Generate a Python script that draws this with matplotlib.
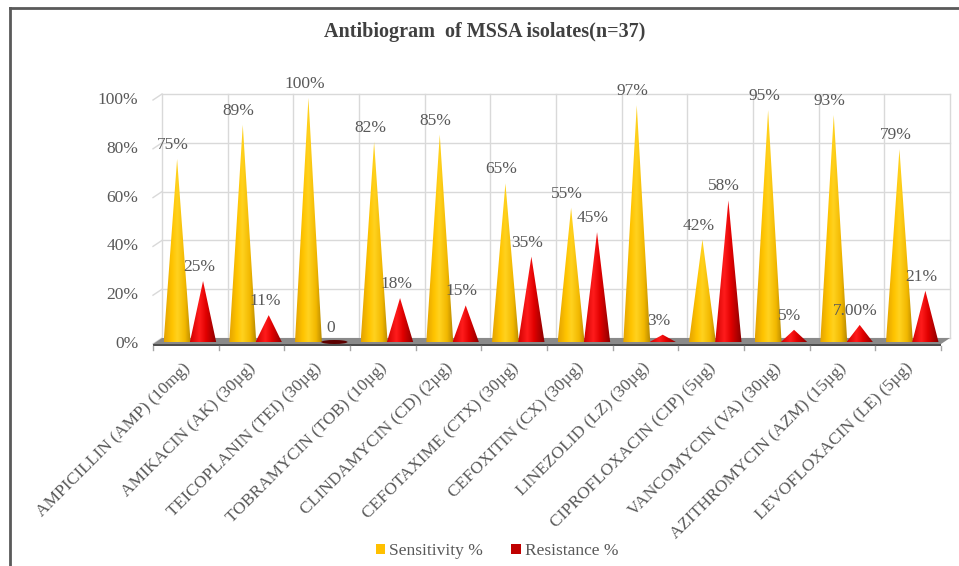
"""Antibiogram of MSSA isolates - 3D-style cone chart."""
import numpy as np
import matplotlib
matplotlib.use("Agg")
import matplotlib.pyplot as plt
from matplotlib.patches import Polygon, Patch, Ellipse
from matplotlib.colors import LinearSegmentedColormap
from matplotlib.lines import Line2D

# --- data ---
categories = [
    "AMPICILLIN (AMP) (10mg)", "AMIKACIN (AK) (30µg)", "TEICOPLANIN (TEI) (30µg)",
    "TOBRAMYCIN (TOB) (10µg)", "CLINDAMYCIN (CD) (2µg)", "CEFOTAXIME (CTX) (30µg)",
    "CEFOXITIN (CX) (30µg)", "LINEZOLID (LZ) (30µg)", "CIPROFLOXACIN (CIP) (5µg)",
    "VANCOMYCIN (VA) (30µg)", "AZITHROMYCIN (AZM) (15µg)", "LEVOFLOXACIN (LE) (5µg)",
]
sensitivity = [75, 89, 100, 82, 85, 65, 55, 97, 42, 95, 93, 79]
resistance = [25, 11, 0, 18, 15, 35, 45, 3, 58, 5, 7, 21]
sens_labels = ["75%", "89%", "100%", "82%", "85%", "65%", "55%", "97%", "42%", "95%", "93%", "79%"]
res_labels = ["25%", "11%", "0", "18%", "15%", "35%", "45%", "3%", "58%", "5%", "7.00%", "21%"]
yticks = [0, 20, 40, 60, 80, 100]

SERIF = ["Liberation Serif", "DejaVu Serif"]
GREY = "#595959"

W, H = 959, 566
fig = plt.figure(figsize=(W / 100, H / 100), dpi=100)
ax = fig.add_axes([162 / W, (H - 342) / H, 788 / W, 244 / H])

PX = 12 / 788     # one pixel in x data units
PY = 100 / 244    # one pixel in y data units

gold = LinearSegmentedColormap.from_list("gold", [
    (0.0, "#E3A200"), (0.3, "#FFC400"), (0.5, "#FFD21F"), (0.78, "#F2B800"), (1.0, "#B98A00")])
red = LinearSegmentedColormap.from_list("red", [
    (0.0, "#D00000"), (0.35, "#FF1C1C"), (0.6, "#E00000"), (1.0, "#850000")])
grad = np.linspace(0, 1, 256).reshape(1, -1)

# back wall grid (shifted a few px up, like the 3D wall)
back_dy = 4 * PY
for y in yticks:
    ax.plot([0, 12], [y + back_dy] * 2, color="#D9D9D9", lw=1, zorder=1, clip_on=False)
    ax.plot([-9 * PX, 0], [y - 2 * PY, y + back_dy], color="#D9D9D9", lw=1, zorder=1, clip_on=False)
for k in range(13):
    ax.plot([k, k], [back_dy, 100 + back_dy], color="#D9D9D9", lw=1, zorder=1, clip_on=False)

# floor slab
floor = Polygon([(0, back_dy), (12, back_dy), (12 - 9 * PX, -2 * PY), (-9 * PX, -2 * PY)],
                closed=True, facecolor="#8A8A8A", edgecolor="none", zorder=2, clip_on=False)
ax.add_patch(floor)
face = Polygon([(-9 * PX, -2 * PY), (12 - 9 * PX, -2 * PY), (12 - 9 * PX, -4 * PY), (-9 * PX, -4 * PY)],
               closed=True, facecolor="#4D4D4D", edgecolor="none", zorder=2, clip_on=False)
ax.add_patch(face)
for k in range(13):
    ax.plot([k - 9 * PX, k - 9 * PX], [-4 * PY, -8 * PY], color="#A6A6A6", lw=1, zorder=2, clip_on=False)


def cone(xc, val, half_w, cmap, dark):
    eh = 2 * PY
    if val <= 0:
        ax.add_patch(Ellipse((xc, 0), 2 * half_w, 2 * eh, facecolor=dark, edgecolor="none",
                             zorder=3, clip_on=False))
        return
    t = np.linspace(0, np.pi, 30)
    arc = np.column_stack([xc + half_w * np.cos(t), -eh * np.sin(t)])
    pts = np.vstack([[xc, val], arc])
    poly = Polygon(pts, closed=True, facecolor="none", edgecolor="none", transform=ax.transData)
    ax.add_patch(poly)
    im = ax.imshow(grad, extent=[xc - half_w, xc + half_w, -eh, val], cmap=cmap,
                   aspect="auto", interpolation="bilinear", zorder=3)
    im.set_clip_box(None)
    im.set_clip_path(poly)


for k in range(len(categories)):
    xs = k + 0.23
    xr = k + 0.625
    cone(xs, sensitivity[k], 0.205, gold, "#8a6a00")
    cone(xr, resistance[k], 0.2, red, "#5C0000")
    for xc, v, lab in ((xs, sensitivity[k], sens_labels[k]), (xr, resistance[k], res_labels[k])):
        ax.annotate(lab, (xc, v), xytext=(-4, 14), textcoords="offset pixels",
                    ha="center", va="center", fontsize=12.5, family=SERIF, color=GREY,
                    zorder=5, annotation_clip=False)
    ax.text(k + 0.5 - 13 * PX, -18 * PY, categories[k], rotation=45, rotation_mode="anchor",
            ha="right", va="top", fontsize=12.5, family=SERIF, color=GREY)

ax.set_xlim(0, 12)
ax.set_ylim(0, 100)
ax.set_xticks([])
ax.set_yticks(yticks)
ax.set_yticklabels([f"{v}%" for v in yticks], family=SERIF, fontsize=12.5, color=GREY)
ax.tick_params(axis="y", length=0, pad=17)
for s in ax.spines.values():
    s.set_visible(False)
ax.patch.set_alpha(0)

fig.text(485 / W, 1 - 32 / H, "Antibiogram  of MSSA isolates(n=37)", ha="center", va="center",
         fontsize=14.5, fontweight="bold", family=SERIF, color="#404040")

handles = [Patch(facecolor="#FFC000", label="Sensitivity %"),
           Patch(facecolor="#C00000", label="Resistance %")]
fig.legend(handles=handles, loc="center", bbox_to_anchor=(497 / W, 1 - 551 / H), ncol=2,
           frameon=False, handlelength=0.55, handleheight=0.55, handletextpad=0.25,
           columnspacing=1.6, prop={"family": SERIF, "size": 12.5}, labelcolor=GREY)

# outer frame (left and top edges visible)
fig.add_artist(Line2D([10 / W, 10 / W], [0, 1 - 8 / H], color="#5A5A5A", lw=2))
fig.add_artist(Line2D([10 / W, 1], [1 - 8 / H, 1 - 8 / H], color="#5A5A5A", lw=2))

fig.savefig("out.png", dpi=100, facecolor="white")
